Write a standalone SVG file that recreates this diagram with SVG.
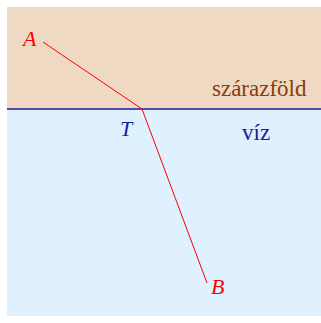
<svg xmlns="http://www.w3.org/2000/svg" width="321" height="323" viewBox="0 0 321 323">
<style>
.lbl{font-family:"Liberation Serif","Times New Roman",serif;font-style:italic;font-size:22px;fill:#ff0000}
.reg{font-family:"Liberation Serif","Times New Roman",serif;font-size:23px}
</style>
<rect x="0" y="0" width="321" height="323" fill="#ffffff"/>
<g id="land"><rect x="7" y="7" width="314" height="102" fill="#f0d9c2"/></g>
<g id="water"><rect x="7" y="109" width="314" height="207" fill="#dff0fe"/></g>
<g id="connectors">
<line x1="7" y1="109" x2="321" y2="109" stroke="#1a1a9a" stroke-width="1.6"/>
<polyline points="43,42 142,109 207,283" fill="none" stroke="#ff0000" stroke-width="1"/>
</g>
<g id="A"><text class="lbl" x="23" y="46">A</text></g>
<g id="T"><text class="lbl" x="120" y="136" style="fill:#1a1aa0">T</text></g>
<g id="B"><text class="lbl" x="211" y="294">B</text></g>
<g id="szarazfold"><text class="reg" x="212" y="96" fill="#8b3a0f">szárazföld</text></g>
<g id="viz"><text class="reg" x="242" y="140" fill="#1a1aa0">víz</text></g>
</svg>
